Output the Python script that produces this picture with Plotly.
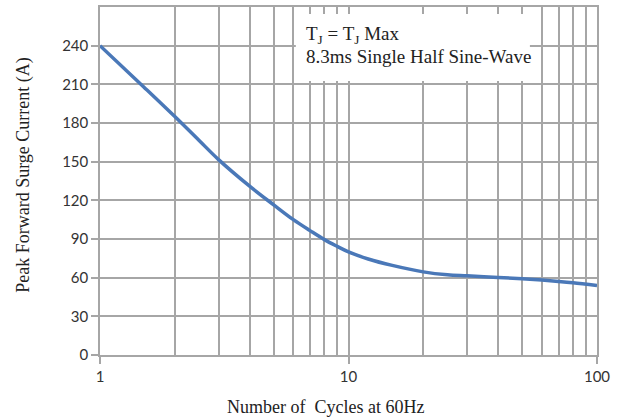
import plotly.graph_objects as go

cycles = [1, 1.5, 2, 2.5, 3, 4, 5, 6, 7, 8, 9, 10, 12, 15, 20, 25, 30, 40, 50, 60, 70, 80, 100]
current = [240, 208, 185, 166.6, 151.6, 131, 116.5, 105, 96.5, 89.5, 84.3, 80, 74.5, 69.5,
           64.5, 62.2, 61.4, 60.2, 59.1, 58.1, 57.1, 56.1, 54]

y_ticks = [0, 30, 60, 90, 120, 150, 180, 210, 240]
x_ticks = [1, 10, 100]
x_minor = [2, 3, 4, 5, 6, 7, 8, 9, 20, 30, 40, 50, 60, 70, 80, 90]

note_lines = ["T<sub>J</sub> = T<sub>J</sub> Max", "8.3ms Single Half Sine-Wave"]
x_title = "Number of  Cycles at 60Hz"
y_title = "Peak Forward Surge Current (A)"

grid = "#a6a6a6"
serif = "Liberation Serif, Times New Roman, serif"
sans = "Lato, Open Sans, sans-serif"

fig = go.Figure()
fig.add_trace(go.Scatter(
    x=cycles, y=current, mode="lines",
    line=dict(color="#4a78b8", width=3.5, shape="spline", smoothing=1.0),
    showlegend=False, hoverinfo="skip",
))

fig.add_shape(type="rect", xref="paper", yref="paper",
              x0=0.394, x1=0.865, y0=0.787, y1=0.98,
              fillcolor="white", line=dict(width=0), layer="above")

for txt, yy in zip(note_lines, [0.92, 0.857]):
    fig.add_annotation(
        xref="paper", yref="paper", x=0.41, y=yy, xanchor="left", yanchor="middle",
        align="left", showarrow=False, text=txt,
        font=dict(family=serif, size=19, color="#222"),
    )

fig.add_annotation(xref="paper", yref="paper", x=0.453, y=-0.149,
                   xanchor="center", yanchor="middle", showarrow=False, text=x_title,
                   font=dict(family=serif, size=18, color="#222"))
fig.add_annotation(xref="paper", yref="paper", x=-0.1555, y=0.517, textangle=-90,
                   xanchor="center", yanchor="middle", showarrow=False, text=y_title,
                   font=dict(family=serif, size=18, color="#222"))

fig.update_layout(
    width=623, height=419,
    margin=dict(l=100, r=26, t=5, b=64),
    paper_bgcolor="white", plot_bgcolor="white",
    font=dict(family=sans, size=15, color="#333"),
    xaxis=dict(
        type="log", range=[0, 2],
        tickvals=x_ticks, ticktext=[str(v) for v in x_ticks],
        showgrid=True, gridcolor=grid, gridwidth=1.5,
        minor=dict(tickvals=x_minor, showgrid=True, gridcolor=grid, gridwidth=1.5, ticks=""),
        showline=True, linecolor=grid, linewidth=1.5, mirror=True,
        ticks="outside", ticklen=7, tickcolor=grid, tickwidth=1.5,
        zeroline=False,
    ),
    yaxis=dict(
        range=[0, 270],
        tickvals=y_ticks,
        showgrid=True, gridcolor=grid, gridwidth=1.5,
        showline=True, linecolor=grid, linewidth=1.5, mirror=True,
        ticks="outside", ticklen=7, tickcolor=grid, tickwidth=1.5,
        zeroline=False,
    ),
)

fig.write_html("out.html", config={"displayModeBar": False},
               post_script="document.body.style.margin='0';")
